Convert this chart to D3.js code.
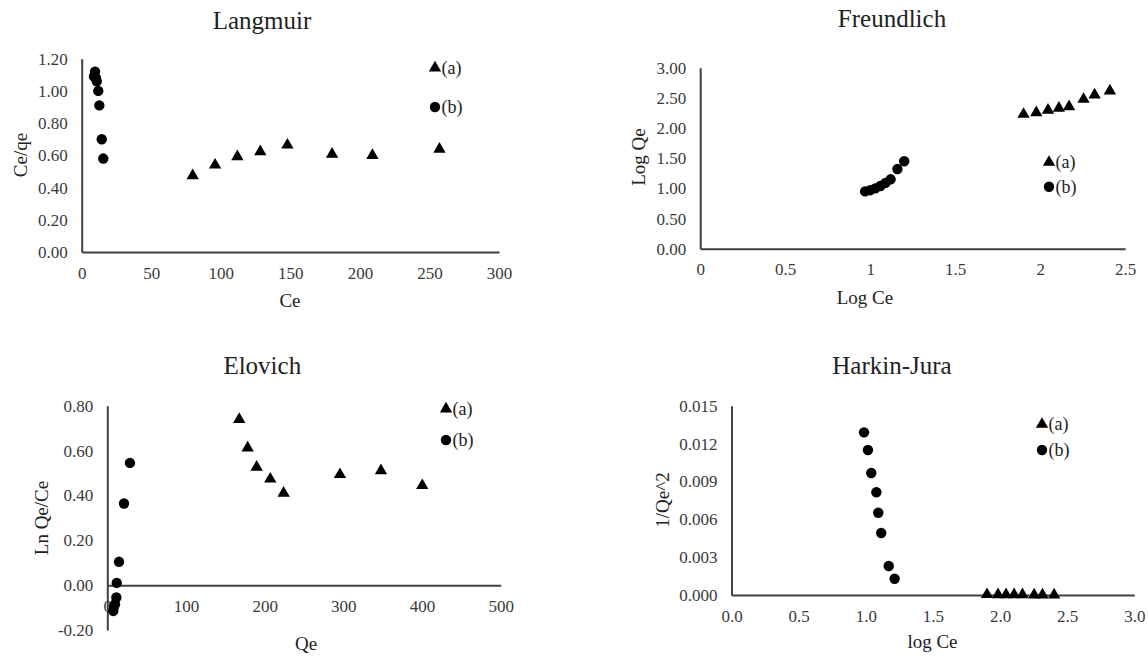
<!DOCTYPE html>
<html><head><meta charset="utf-8">
<script src="https://cdn.jsdelivr.net/npm/d3@7"></script>
<style>
html,body{margin:0;padding:0;background:#fff;}
svg{display:block;font-family:"Liberation Serif","Times New Roman",serif;}
</style></head>
<body>
<svg id="c" width="1148" height="657"></svg>
<script>
// ---------- DATA ----------
const seriesNames = ["(a)", "(b)"];

// Langmuir
const langA_Ce   = [79.8, 95.9, 111.9, 128.4, 147.9, 180.0, 209.0, 257.2];
const langA_CeQe = [0.474, 0.540, 0.592, 0.623, 0.664, 0.608, 0.600, 0.639];
const langB_Ce   = [8.8, 9.6, 10.2, 10.8, 11.9, 12.7, 14.4, 15.5];
const langB_CeQe = [1.09, 1.12, 1.08, 1.06, 1.00, 0.91, 0.70, 0.58];
const langXTicks = [0, 50, 100, 150, 200, 250, 300];
const langYTicks = [0, 0.2, 0.4, 0.6, 0.8, 1.0, 1.2];

// Freundlich
const freA_logCe = [1.902, 1.977, 2.046, 2.110, 2.170, 2.255, 2.320, 2.410];
const freA_logQe = [2.228, 2.256, 2.295, 2.328, 2.355, 2.477, 2.549, 2.615];
const freB_logCe = [0.97, 1.00, 1.03, 1.06, 1.09, 1.12, 1.16, 1.20];
const freB_logQe = [0.95, 0.97, 1.00, 1.04, 1.09, 1.15, 1.32, 1.45];
const freXTicks = [0, 0.5, 1, 1.5, 2, 2.5];
const freYTicks = [0, 0.5, 1.0, 1.5, 2.0, 2.5, 3.0];

// Elovich
const eloA_Qe   = [167.7, 178.4, 189.8, 207.1, 224.1, 295.7, 347.8, 400.3];
const eloA_lnQC = [0.739, 0.612, 0.526, 0.473, 0.410, 0.493, 0.510, 0.444];
const eloB_Qe   = [7.6, 8.5, 9.8, 11.5, 12.0, 14.9, 21.2, 28.8];
const eloB_lnQC = [-0.115, -0.095, -0.085, -0.055, 0.01, 0.104, 0.364, 0.545];
const eloXTicks = [0, 100, 200, 300, 400, 500];
const eloYTicks = [-0.2, 0, 0.2, 0.4, 0.6, 0.8];

// Harkin-Jura
const hjA_logCe = [1.903, 1.985, 2.045, 2.105, 2.167, 2.254, 2.316, 2.403];
const hjA_invQe2 = [0.000035, 0.000032, 0.000028, 0.000024, 0.000020, 0.000011, 0.000008, 0.000006];
const hjB_logCe = [0.987, 1.016, 1.041, 1.079, 1.093, 1.115, 1.171, 1.215];
const hjB_invQe2 = [0.01289, 0.01149, 0.00967, 0.00814, 0.00652, 0.00491, 0.00230, 0.00129];
const hjXTicks = [0, 0.5, 1.0, 1.5, 2.0, 2.5, 3.0];
const hjYTicks = [0, 0.003, 0.006, 0.009, 0.012, 0.015];

// ---------- PANELS (layout) ----------
const panels = [
  { title: "Langmuir", xLabel: "Ce", yLabel: "Ce/qe",
    xr: [81.7, 499], yr: [252, 58.7], xd: [0, 300], yd: [0, 1.2],
    xTicks: langXTicks, yTicks: langYTicks, xf: d => String(d), yf: d => d.toFixed(2),
    a: [langA_Ce, langA_CeQe], b: [langB_Ce, langB_CeQe],
    titlePos: [262, 20], xLabPos: [290, 300], yLabPos: [20, 155],
    legX: 435, legY: [68, 107], xAxisAt: 0 },
  { title: "Freundlich", xLabel: "Log Ce", yLabel: "Log Qe",
    xr: [700.2, 1125.2], yr: [248.7, 67.7], xd: [0, 2.5], yd: [0, 3],
    xTicks: freXTicks, yTicks: freYTicks, xf: d => String(d), yf: d => d.toFixed(2),
    a: [freA_logCe, freA_logQe], b: [freB_logCe, freB_logQe],
    titlePos: [892, 18.5], xLabPos: [865, 297.7], yLabPos: [638, 157],
    legX: 1049, legY: [162.3, 186.7], xAxisAt: 0 },
  { title: "Elovich", xLabel: "Qe", yLabel: "Ln Qe/Ce",
    xr: [107.3, 500.7], yr: [630, 405.7], xd: [0, 500], yd: [-0.2, 0.8],
    xTicks: eloXTicks, yTicks: eloYTicks, xf: d => String(d), yf: d => d.toFixed(2),
    a: [eloA_Qe, eloA_lnQC], b: [eloB_Qe, eloB_lnQC],
    titlePos: [262.3, 365], xLabPos: [306, 643.3], yLabPos: [41.7, 518],
    legX: 446, legY: [409, 440], xAxisAt: 0 },
  { title: "Harkin-Jura", xLabel: "log Ce", yLabel: "1/Qe^2",
    xr: [731.5, 1134.3], yr: [595, 405.7], xd: [0, 3], yd: [0, 0.015],
    xTicks: hjXTicks, yTicks: hjYTicks, xf: d => d.toFixed(1), yf: d => d.toFixed(3),
    a: [hjA_logCe, hjA_invQe2], b: [hjB_logCe, hjB_invQe2],
    titlePos: [892, 365], xLabPos: [932.5, 641.7], yLabPos: [662, 500],
    legX: 1042, legY: [424.3, 450], xAxisAt: 0 }
];

const svg = d3.select("#c");
const AXIS = "#404040", TXT = "#3a3a3a", TITLE = "#222";
const tri = d3.symbol().type(d3.symbolTriangle).size(66);

panels.forEach(p => {
  const g = svg.append("g");
  const x = d3.scaleLinear().domain(p.xd).range(p.xr);
  const y = d3.scaleLinear().domain(p.yd).range(p.yr);

  // y axis
  const ya = g.append("g").attr("transform", `translate(${p.xr[0]},0)`)
    .call(d3.axisLeft(y).tickValues(p.yTicks).tickFormat(p.yf).tickSize(0).tickPadding(14));
  ya.select(".domain").attr("stroke", AXIS).attr("stroke-width", 2);
  ya.selectAll("text").attr("fill", TXT).attr("font-size", 17).attr("font-family", "Liberation Serif")
    .attr("dy", null).attr("dominant-baseline", "central");

  // x axis
  const xa = g.append("g").attr("transform", `translate(0,${y(p.xAxisAt)})`)
    .call(d3.axisBottom(x).tickValues(p.xTicks).tickFormat(p.xf).tickSize(0).tickPadding(0));
  xa.select(".domain").attr("stroke", AXIS).attr("stroke-width", 2);
  xa.selectAll("text").attr("fill", TXT).attr("font-size", 17).attr("font-family", "Liberation Serif")
    .attr("dy", null).attr("y", 21).attr("dominant-baseline", "central");

  // titles
  g.append("text").attr("x", p.titlePos[0]).attr("y", p.titlePos[1])
    .attr("text-anchor", "middle").attr("dominant-baseline", "central")
    .attr("font-size", 25).attr("fill", TITLE).text(p.title);
  g.append("text").attr("x", p.xLabPos[0]).attr("y", p.xLabPos[1])
    .attr("text-anchor", "middle").attr("dominant-baseline", "central")
    .attr("font-size", 19).attr("fill", TITLE).text(p.xLabel);
  g.append("text").attr("transform", `translate(${p.yLabPos[0]},${p.yLabPos[1]}) rotate(-90)`)
    .attr("text-anchor", "middle").attr("dominant-baseline", "central")
    .attr("font-size", 19).attr("fill", TITLE).text(p.yLabel);

  // points (a) triangles, (b) circles
  const aPts = p.a[0].map((v, i) => [v, p.a[1][i]]);
  const bPts = p.b[0].map((v, i) => [v, p.b[1][i]]);
  g.append("g").selectAll("path").data(aPts).join("path")
    .attr("d", tri).attr("transform", d => `translate(${x(d[0])},${y(d[1])})`).attr("fill", "#000");
  g.append("g").selectAll("circle").data(bPts).join("circle")
    .attr("cx", d => x(d[0])).attr("cy", d => y(d[1])).attr("r", 5.2).attr("fill", "#000");

  // legend
  g.append("path").attr("d", tri).attr("transform", `translate(${p.legX},${p.legY[0]})`).attr("fill", "#000");
  g.append("circle").attr("cx", p.legX).attr("cy", p.legY[1]).attr("r", 5.2).attr("fill", "#000");
  seriesNames.forEach((s, i) => {
    g.append("text").attr("x", p.legX + 6.5).attr("y", p.legY[i])
      .attr("dominant-baseline", "central").attr("font-size", 18).attr("fill", TITLE).text(s);
  });
});
</script>
</body></html>
